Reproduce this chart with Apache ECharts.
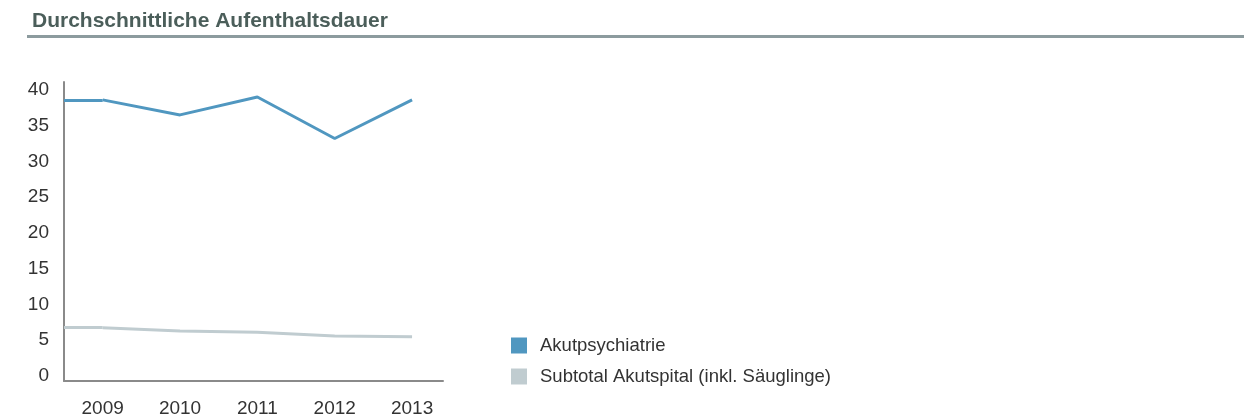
<!DOCTYPE html>
<html>
<head>
<meta charset="utf-8">
<script src="https://cdn.jsdelivr.net/npm/echarts@6/dist/echarts.min.js"></script>
<style>
html,body{margin:0;padding:0;background:#fff;}
#c{width:1255px;height:419px;}
</style>
</head>
<body>
<div id="c"></div>
<script>
const titleText = 'Durchschnittliche Aufenthaltsdauer';
const years = [2009, 2010, 2011, 2012, 2013];
const akutpsychiatrie = [39.3, 37.2, 39.7, 33.9, 39.3];
const subtotalAkutspital = [7.45, 7.0, 6.8, 6.3, 6.2];
const seriesNames = ['Akutpsychiatrie', 'Subtotal Akutspital (inkl. Säuglinge)'];
const seriesColors = ['#5097c0', '#c0ccd0'];
const yTicks = [0, 5, 10, 15, 20, 25, 30, 35, 40];

const xMin = 2008.5, xMax = 2013.4;
const font = '"Liberation Sans", Arial, sans-serif';

function makeSeries(name, vals, color) {
  return {
    name: name,
    type: 'line',
    data: years.map((y, i) => [y, vals[i]]),
    showSymbol: false,
    symbol: 'none',
    lineStyle: { color: color, width: 3 },
    itemStyle: { color: color },
    animation: false,
    markLine: {
      silent: true,
      symbol: ['none', 'none'],
      label: { show: false },
      lineStyle: { color: color, width: 3, type: 'solid' },
      data: [[{ coord: [xMin, vals[0]] }, { coord: [years[0], vals[0]] }]],
      animation: false
    }
  };
}

const chart = echarts.init(document.getElementById('c'), null, { renderer: 'canvas' });
chart.setOption({
  animation: false,
  title: {
    text: titleText,
    left: 32,
    top: 11,
    padding: 0,
    textStyle: { fontFamily: font, fontSize: 21, fontWeight: 'bold', color: '#4b5e5a' }
  },
  graphic: [{
    type: 'rect',
    left: 27, top: 35,
    shape: { width: 1217, height: 3 },
    style: { fill: '#8c9b9e' }
  }],
  legend: {
    orient: 'vertical',
    left: 511,
    top: 336,
    padding: 0,
    itemWidth: 16,
    itemHeight: 16,
    itemGap: 12,
    icon: 'rect',
    data: seriesNames,
    textStyle: { fontFamily: font, fontSize: 18.5, color: '#333', padding: [0, 0, 0, 8] }
  },
  grid: { left: 64, top: 82, right: 1255 - 443, bottom: 38, containLabel: false },
  xAxis: {
    type: 'value',
    min: xMin,
    max: xMax,
    interval: 0.5,
    splitLine: { show: false },
    axisTick: { show: false },
    axisLine: { show: true, lineStyle: { color: '#8a8a8a', width: 2 } },
    axisLabel: {
      fontFamily: font, fontSize: 19, color: '#333', margin: 18,
      showMaxLabel: false,
      formatter: v => (years.indexOf(Math.round(v * 10) / 10) >= 0 ? String(Math.round(v)) : '')
    }
  },
  yAxis: {
    type: 'value',
    min: 0,
    max: 41.8,
    interval: 5,
    splitLine: { show: false },
    axisTick: { show: false },
    axisLine: { show: true, lineStyle: { color: '#8a8a8a', width: 2 } },
    axisLabel: {
      fontFamily: font, fontSize: 19, color: '#333', margin: 15,
      showMaxLabel: false,
      verticalAlign: 'bottom',
      lineHeight: 10,
      formatter: v => (yTicks.indexOf(v) >= 0 ? String(v) : '')
    }
  },
  series: [
    makeSeries(seriesNames[1], subtotalAkutspital, seriesColors[1]),
    makeSeries(seriesNames[0], akutpsychiatrie, seriesColors[0])
  ]
});
</script>
</body>
</html>
